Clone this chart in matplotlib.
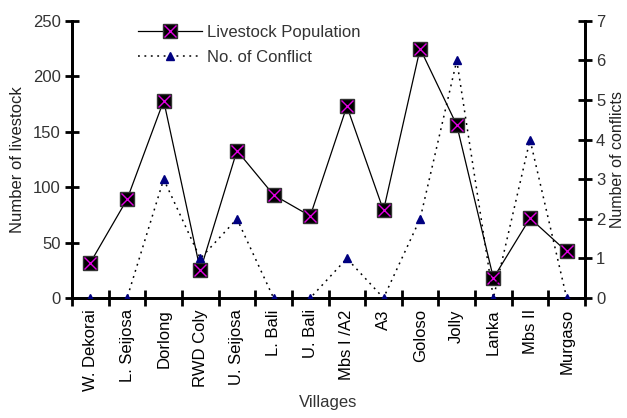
import matplotlib
matplotlib.use("Agg")
import matplotlib.pyplot as plt
from matplotlib.legend_handler import HandlerTuple

plt.rcParams['font.family'] = ['Liberation Sans', 'DejaVu Sans']

villages = ["W. Dekorai", "L. Seijosa", "Dorlong", "RWD Coly", "U. Seijosa", "L. Bali",
            "U. Bali", "Mbs I /A2", "A3", "Goloso", "Jolly", "Lanka", "Mbs II", "Murgaso"]
livestock = [32, 89, 178, 25, 133, 93, 74, 173, 79, 225, 156, 18, 72, 42]
conflicts = [0, 0, 3, 1, 2, 0, 0, 1, 0, 2, 6, 0, 4, 0]

fig = plt.figure(figsize=(6.27, 4.18), dpi=100)
ax = fig.add_axes([0.115, 0.287, 0.818, 0.663])
ax2 = ax.twinx()

x = list(range(len(villages)))

# livestock: black squares with a magenta cross on top
l1, = ax.plot(x, livestock, color='black', lw=0.9, marker='s', ms=10,
              mfc='black', mec='#333333', zorder=3)
l1x, = ax.plot(x, livestock, ls='none', marker='x', ms=8, mew=1.0,
               color='#e000e0', zorder=4)

l2, = ax2.plot(x, conflicts, color='black', lw=1.1, ls=(0, (1.2, 3)),
               marker='^', ms=6, mfc='#000080', mec='#000080', zorder=3)

ax.set_xlim(-0.5, len(villages) - 0.5)
ax.set_ylim(0, 250)
ax2.set_ylim(0, 7)
ax.set_yticks(range(0, 251, 50))
ax2.set_yticks(range(0, 8))
ax.set_xticks(x)
ax.set_xticklabels(villages, rotation=90, fontsize=12)
ax.set_xticks([i - 0.5 for i in range(len(villages) + 1)], minor=True)

for a in (ax, ax2):
    a.spines['top'].set_visible(False)
    for s in ('left', 'right', 'bottom'):
        a.spines[s].set_linewidth(2)
    a.tick_params(axis='y', direction='inout', length=10, width=2, labelsize=12,
                  labelcolor='#333333', pad=3)
ax.tick_params(axis='x', which='major', length=0, pad=8)
ax.tick_params(axis='x', which='minor', direction='inout', length=12, width=2)
ax.patch.set_visible(False)

ax.set_xlabel("Villages", fontsize=12, color='#333333', labelpad=3)
ax.set_ylabel("Number of livestock", fontsize=12, color='#222222', labelpad=6)
ax2.set_ylabel("Number of conflicts", fontsize=11.5, color='#222222', labelpad=3)

ax.legend([(l1, l1x), l2], ["Livestock Population", "No. of Conflict"],
          handler_map={tuple: HandlerTuple(ndivide=1, pad=0)},
          loc='upper left', bbox_to_anchor=(0.1, 1.04), frameon=False,
          fontsize=12, handlelength=3.8, labelspacing=0.6, handletextpad=0.3,
          labelcolor='#333333')

fig.savefig("out.png", dpi=100)
